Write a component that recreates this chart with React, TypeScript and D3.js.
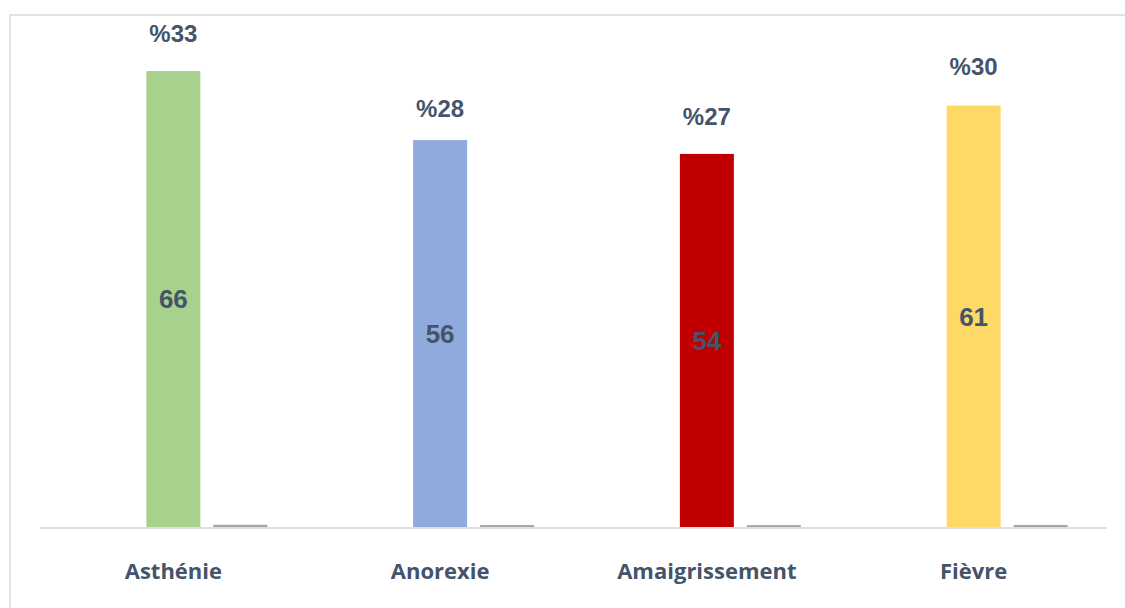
import { useEffect, useRef } from 'react';
import * as d3 from 'd3';

const categories = ['Asthénie', 'Anorexie', 'Amaigrissement', 'Fièvre'];
const counts = [66, 56, 54, 61];
const percents = [33, 28, 27, 30];
const barColors = ['#A9D18E', '#8FAADC', '#C00000', '#FFD966'];
const subSeries = ['blank', 'count', 'pct'];
// hand-placed percentage labels: lift above bar top, px
const pctLabelLift = [29, 23, 29, 31];

export default function App() {
  const ref = useRef<SVGSVGElement>(null);

  useEffect(() => {
    const svgEl = ref.current;
    if (!svgEl) return;
    document.body.style.margin = '0';

    const width = 1125;
    const height = 608;
    const svg = d3.select(svgEl);
    svg.selectAll('*').remove();
    svg.attr('width', width).attr('height', height);

    const textColor = '#44546A';

    // chart frame (runs off the right and bottom edges)
    svg.append('rect')
      .attr('x', 10).attr('y', 15)
      .attr('width', 1300).attr('height', 800)
      .attr('fill', 'none')
      .attr('stroke', '#DFE4EB')
      .attr('stroke-width', 2);

    const baseline = 527;
    const x = d3.scaleBand<string>().domain(categories).range([40, 1107]);
    const half = 100.5;
    const xSub = d3.scaleBand<string>()
      .domain(subSeries)
      .range([x.bandwidth() / 2 - half, x.bandwidth() / 2 + half])
      .paddingInner(0.194)
      .paddingOuter(0.097);
    const y = d3.scaleLinear().domain([0, 70]).range([baseline, 43.4]);

    const g = svg.append('g');

    const groups = g.selectAll('g.cat')
      .data(categories)
      .join('g')
      .attr('class', 'cat')
      .attr('transform', d => `translate(${x(d)},0)`);

    // count bars
    groups.append('rect')
      .attr('x', xSub('count')!)
      .attr('width', xSub.bandwidth())
      .attr('y', (_, i) => y(counts[i]))
      .attr('height', (_, i) => baseline - y(counts[i]))
      .attr('fill', (_, i) => barColors[i]);

    // share as fraction (tiny grey bars)
    groups.append('rect')
      .attr('x', xSub('pct')!)
      .attr('width', xSub.bandwidth())
      .attr('y', (_, i) => y(percents[i] / 100))
      .attr('height', (_, i) => baseline - y(percents[i] / 100))
      .attr('fill', '#A5A5A5');

    // axis line
    g.append('line')
      .attr('x1', 40).attr('x2', 1107)
      .attr('y1', baseline + 1).attr('y2', baseline + 1)
      .attr('stroke', '#DCE0E6')
      .attr('stroke-width', 2);

    const cx = xSub('count')! + xSub.bandwidth() / 2;

    // counts inside bars
    groups.append('text')
      .attr('x', cx)
      .attr('y', (_, i) => (y(counts[i]) + baseline) / 2)
      .attr('dy', '0.36em')
      .attr('text-anchor', 'middle')
      .attr('font-family', 'Arial, "Liberation Sans", sans-serif')
      .attr('font-weight', 700)
      .attr('font-size', 26)
      .attr('fill', textColor)
      .text((_, i) => counts[i]);

    // percentages above bars
    groups.append('text')
      .attr('x', cx)
      .attr('y', (_, i) => y(counts[i]) - pctLabelLift[i])
      .attr('text-anchor', 'middle')
      .attr('font-family', 'Arial, "Liberation Sans", sans-serif')
      .attr('font-weight', 700)
      .attr('font-size', 24)
      .attr('fill', textColor)
      .text((_, i) => `%${percents[i]}`);

    // category labels
    groups.append('text')
      .attr('x', x.bandwidth() / 2)
      .attr('y', 579)
      .attr('text-anchor', 'middle')
      .attr('font-family', '"Open Sans", Lato, sans-serif')
      .attr('font-weight', 700)
      .attr('font-size', 22)
      .attr('fill', textColor)
      .text(d => d);
  }, []);

  return <svg ref={ref} style={{ display: 'block' }} />;
}
